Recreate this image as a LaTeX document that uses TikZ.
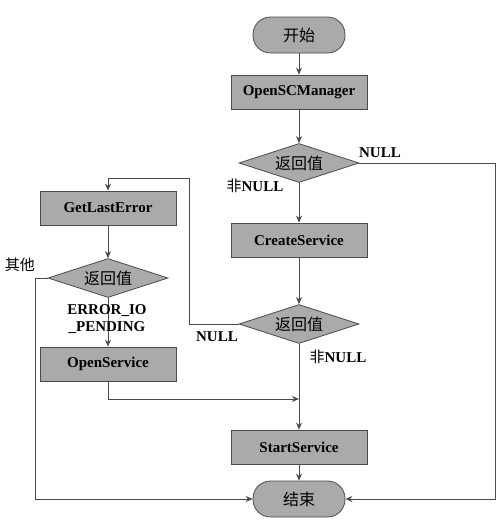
\documentclass[tikz,border=0pt]{standalone}
\usepackage{fontspec}
\setmainfont{Liberation Serif}
\newfontfamily\cjk{Noto Sans CJK SC}
\usetikzlibrary{shapes.geometric,arrows.meta}
\definecolor{boxfill}{RGB}{170,170,170}
\definecolor{linec}{RGB}{75,75,75}
\tikzset{
 proc/.style={draw=linec, fill=boxfill, minimum width=136pt, minimum height=34pt, inner sep=0pt, font=\fontsize{15}{17}\selectfont\bfseries, line width=0.8pt},
 term/.style={draw=linec, fill=boxfill, minimum width=92pt, minimum height=36pt, rounded corners=17.5pt, inner sep=0pt, font=\cjk\fontsize{16}{18}\selectfont, line width=0.8pt},
 dec/.style={diamond, aspect=3, draw=linec, fill=boxfill, minimum width=120pt, minimum height=39pt, inner sep=0pt, font=\cjk\fontsize{16}{18}\selectfont, line width=0.8pt},
 conn/.style={draw=linec, line width=0.8pt, -{Stealth[length=7pt,width=6pt]}},
 lab/.style={font=\fontsize{15}{17}\selectfont\bfseries, inner sep=0pt, align=center},
}
\begin{document}
\begin{tikzpicture}[x=1pt,y=-1pt]
\useasboundingbox[fill=white] (0,0) rectangle (503,528);
\node[term] (start) at (299,35) {开始};
\node[proc] (osc) at (299,92) {OpenSCManager};
\node[dec] (d1) at (299,163) {返回值};
\node[proc] (cs) at (299,240) {CreateService};
\node[dec] (d2) at (299,324) {返回值};
\node[proc] (ss) at (299,447) {StartService};
\node[term] (end) at (299,499) {结束};
\node[proc] (gle) at (108,208) {GetLastError};
\node[dec] (d3) at (108,278) {返回值};
\node[proc] (os) at (108,364) {OpenService};
\coordinate (rc) at (495,499);
\coordinate (lc) at (189,178);
\coordinate (oc) at (35,499);
\coordinate (jn) at (299,399);
\draw[conn] (start) -- (osc);
\draw[conn] (osc) -- (d1);
\draw[conn] (d1) -- (cs);
\draw[conn] (d1.east) -| (rc) -- (end.east);
\draw[conn] (cs) -- (d2);
\draw[conn] (d2) -- (ss);
\draw[conn] (d2.west) -| (lc) -| (gle.north);
\draw[conn] (gle) -- (d3);
\draw[conn] (d3) -- (os);
\draw[conn] (d3.west) -| (oc) -- (end.west);
\draw[conn] (os.south) |- (jn);
\draw[conn] (ss) -- (end);
\node[lab] (l1) at (380,153) {NULL};
\node[lab] (l2) at (255,186) {{\cjk\mdseries 非}NULL};
\node[lab] (l3) at (217,337) {NULL};
\node[lab] (l4) at (338,357) {{\cjk\mdseries 非}NULL};
\node[lab] (l5) at (20,265) {{\cjk\mdseries 其他}};
\node[lab] (l6) at (107,319) {ERROR\_IO\\\_PENDING};
\end{tikzpicture}
\end{document}
